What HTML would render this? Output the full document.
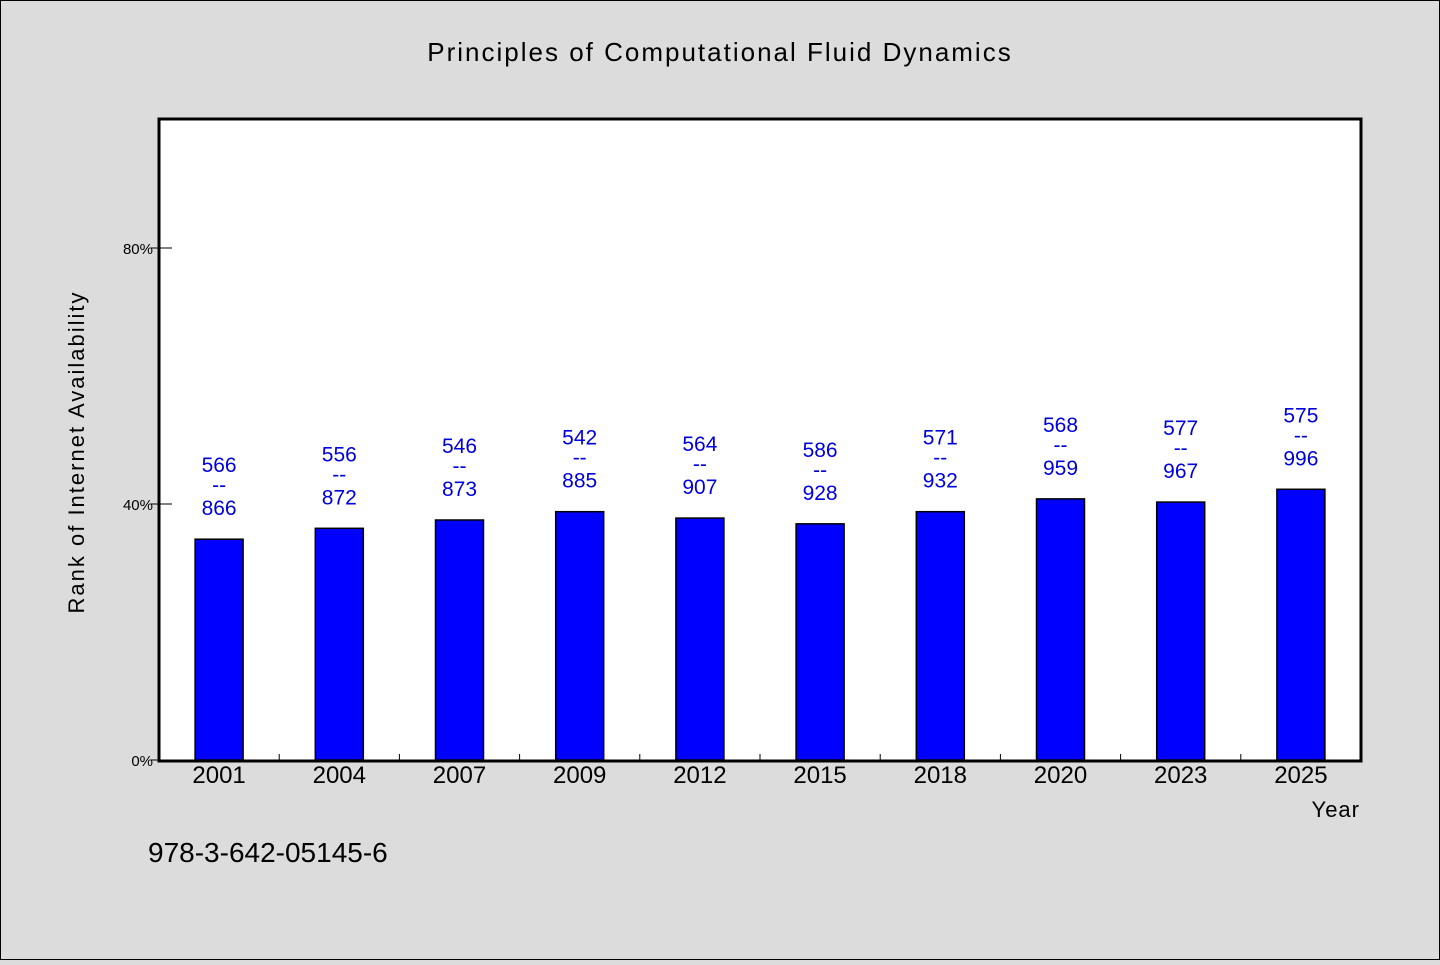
<!DOCTYPE html>
<html><head><meta charset="utf-8"><style>
body{margin:0;background:#dcdcdc;}
svg text{font-family:"WenQuanYi Zen Hei","Liberation Sans",sans-serif;}
</style></head><body>
<svg width="1440" height="960">
<rect x="0.5" y="0.5" width="1439" height="959" fill="#dcdcdc" stroke="#000"/>
<text x="720" y="61" text-anchor="middle" font-size="26" letter-spacing="2">Principles of Computational Fluid Dynamics</text>
<rect x="159" y="119" width="1202" height="642" fill="#fff" stroke="#000" stroke-width="3"/>
<g id="bars"></g>
<text x="1360" y="817" text-anchor="end" font-size="22" letter-spacing="1">Year</text>
<text transform="translate(84,452) rotate(-90)" text-anchor="middle" font-size="22" letter-spacing="2">Rank of Internet Availability</text>
<text x="148" y="862" font-size="28">978-3-642-05145-6</text>
</svg>
<script>
const categories=["2001","2004","2007","2009","2012","2015","2018","2020","2023","2025"];
const values=[34.5,36.2,37.5,38.8,37.8,36.9,38.8,40.8,40.3,42.3];
const topLabels=["566","556","546","542","564","586","571","568","577","575"];
const bottomLabels=["866","872","873","885","907","928","932","959","967","996"];
const yTicks=[0,40,80];
const ns="http://www.w3.org/2000/svg";
const g=document.getElementById('bars');
const x0=159,x1=1361,yb=760,pxPer=6.4;
const bw=(x1-x0)/categories.length;
const y=v=>yb-v*pxPer;
function mk(t,a){const e=document.createElementNS(ns,t);for(const k in a)e.setAttribute(k,a[k]);g.appendChild(e);return e;}
yTicks.forEach(t=>{
 const l=mk('line',{x1:151,x2:172,y1:y(t),y2:y(t),stroke:'#000','stroke-width':1});
 
 
 const tx=mk('text',{x:153,y:y(t)+6,'text-anchor':'end','font-size':15});
 tx.textContent=t+'%';
 
 
});
categories.forEach((c,i)=>{
 const cx=x0+bw*(i+0.5);
 if(i>0){const tk=mk('line',{x1:x0+bw*i,x2:x0+bw*i,y1:754,y2:761,stroke:'#000'});
 
 }
 const top=y(values[i]);
 const r=mk('rect',{x:cx-24,y:top,width:48,height:yb-top,fill:'#0000ff',stroke:'#000','stroke-width':1.5});
 
 
 const xl=mk('text',{x:cx,y:783,'text-anchor':'middle','font-size':24});
 xl.textContent=c;
 
 
 [[topLabels[i],-67],['--',-47],[bottomLabels[i],-24]].forEach(([s,dy],j)=>{
  const t=mk('text',{x:cx,y:top+dy,'text-anchor':'middle','font-size':21,fill:'#0000dd'});
  t.textContent=s;
  
  
 });
});
</script>
</body></html>
